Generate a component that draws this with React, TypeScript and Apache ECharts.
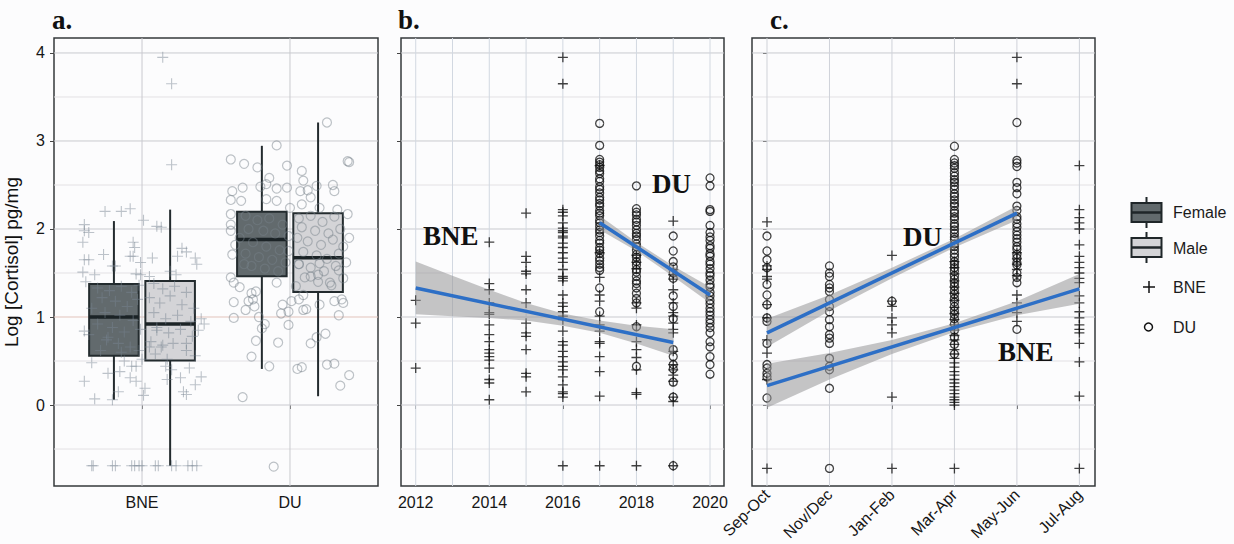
import React, { useEffect, useRef } from 'react';
import * as echarts from 'echarts';

// ---------- axis labels / ticks ----------
const siteLabels = ['BNE', 'DU'];
const seasonLabels = ['Sep-Oct', 'Nov/Dec', 'Jan-Feb', 'Mar-Apr', 'May-Jun', 'Jul-Aug'];
const yearTicks = [2012, 2014, 2016, 2018, 2020];
const yearGrid = [2012, 2013, 2014, 2015, 2016, 2017, 2018, 2019, 2020];
const seasonTicks = [0, 1, 2, 3, 4, 5];
const siteTicks = [1, 2];
const yTicks = [0, 1, 2, 3, 4];
const yGrid = [-0.5, 0, 0.5, 1, 1.5, 2, 2.5, 3, 3.5, 4];

// ---------- panel a: box statistics [min, Q1, median, Q3, max] ----------
const boxBneFemale = [0.06, 0.56, 1.0, 1.376, 2.09];
const boxBneMale = [-0.69, 0.505, 0.92, 1.41, 2.22];
const boxDuFemale = [0.41, 1.463, 1.88, 2.197, 2.945];
const boxDuMale = [0.1, 1.285, 1.673, 2.18, 3.21];

// panel a jittered points [site position (BNE=1, DU=2) + jitter, value]
const jitterBne = [
  [1.14, 3.95], [1.2, 3.65], [1.2, 2.73],
  [0.75, 2.2], [0.86, 2.2], [0.92, 2.23], [1.01, 2.1], [1.1, 2.03], [1.13, 2.02], [0.61, 2.05], [0.61, 1.98],
  [0.64, 1.96], [0.6, 1.85], [0.94, 1.85], [0.95, 1.79], [0.74, 1.71], [0.92, 1.69], [0.94, 1.69], [1.07, 1.67],
  [1.27, 1.78], [1.3, 1.74], [1.24, 1.69], [1.36, 1.67], [1.37, 1.6], [0.61, 1.65], [0.64, 1.65], [0.8, 1.58],
  [0.82, 1.58], [0.99, 1.62], [0.6, 1.51], [0.68, 1.48], [0.96, 1.49], [0.99, 1.48], [1.05, 1.46], [1.19, 1.52],
  [1.23, 1.48],
  [0.62, 1.4], [0.7, 1.33], [0.78, 1.3], [0.86, 1.35], [0.93, 1.28], [0.98, 1.36], [0.73, 1.22], [0.82, 1.18],
  [0.9, 1.12], [0.97, 1.2], [0.66, 1.1], [0.75, 1.05], [0.85, 1.02], [0.94, 0.96], [0.7, 0.92], [0.8, 0.88],
  [0.88, 0.83], [0.99, 0.86], [0.64, 0.8], [0.76, 0.74], [0.84, 0.7], [0.92, 0.66], [0.72, 0.62], [0.86, 0.6],
  [0.98, 0.62], [0.61, 0.84], [0.77, 0.77],
  [1.08, 1.38], [1.14, 1.32], [1.22, 1.35], [1.3, 1.28], [1.05, 1.22], [1.12, 1.16], [1.19, 1.24], [1.27, 1.14],
  [1.35, 1.1], [1.08, 1.05], [1.16, 0.98], [1.24, 1.02], [1.33, 0.95], [1.4, 0.98], [1.1, 0.88], [1.18, 0.82],
  [1.26, 0.86], [1.34, 0.78], [1.06, 0.72], [1.13, 0.66], [1.21, 0.7], [1.3, 0.62], [1.36, 0.56], [1.09, 0.58],
  [1.17, 0.52], [1.42, 0.92], [1.38, 0.85],
  [0.61, 0.27], [0.77, 0.36], [0.85, 0.38], [0.93, 0.44], [0.96, 0.44], [0.92, 0.31], [0.96, 0.27], [1.02, 0.19],
  [1.01, 0.11], [0.84, 0.15], [0.68, 0.07], [0.8, 0.06], [1.16, 0.44], [1.2, 0.4], [1.17, 0.29], [1.26, 0.31],
  [1.32, 0.42], [1.4, 0.32], [1.36, 0.23], [1.28, 0.15], [1.3, 0.12], [1.05, 0.66], [1.14, 0.68], [1.3, 0.7],
  [1.1, 0.85], [0.66, 0.48], [0.88, 0.5], [1.0, 0.52],
  [0.66, -0.69], [0.67, -0.69], [0.8, -0.69], [0.82, -0.69], [0.93, -0.69], [0.95, -0.69], [0.98, -0.69],
  [1.0, -0.69], [1.09, -0.69], [1.11, -0.69], [1.2, -0.69], [1.23, -0.69], [1.31, -0.69], [1.34, -0.69], [1.37, -0.69],
];
const jitterDu = [
  [2.25, 3.21], [1.91, 2.95], [1.6, 2.79], [1.69, 2.74], [1.78, 2.7], [1.98, 2.72], [2.39, 2.77], [2.4, 2.76],
  [1.86, 2.58], [2.08, 2.66], [2.09, 2.55], [1.61, 2.43], [1.68, 2.47], [1.8, 2.48], [1.84, 2.51], [1.91, 2.46],
  [1.98, 2.47], [2.07, 2.43], [2.12, 2.44], [2.18, 2.49], [2.29, 2.5], [2.3, 2.43], [1.6, 2.33], [1.67, 2.32],
  [1.84, 2.34], [1.91, 2.32], [2.14, 2.36], [2.08, 2.28], [2.0, 2.24], [2.2, 2.24], [2.32, 2.22], [2.39, 2.17],
  [1.6, 2.17], [1.6, 2.05], [1.6, 1.98],
  [1.7, 2.15], [1.78, 2.1], [1.86, 2.12], [1.95, 2.05], [1.72, 2.0], [1.82, 1.98], [1.9, 1.95], [1.99, 1.92],
  [1.75, 1.85], [1.84, 1.8], [1.93, 1.76], [1.7, 1.72], [1.79, 1.68], [1.88, 1.65], [1.97, 1.62], [1.74, 1.58],
  [1.83, 1.55], [1.92, 1.52], [1.99, 1.75], [1.66, 1.9], [1.63, 1.82], [1.69, 1.6], [1.6, 1.45],
  [2.06, 2.12], [2.14, 2.15], [2.22, 2.08], [2.3, 2.14], [2.08, 2.02], [2.17, 1.98], [2.26, 1.95], [2.34, 2.0],
  [2.05, 1.9], [2.12, 1.86], [2.21, 1.82], [2.29, 1.88], [2.36, 1.8], [2.09, 1.74], [2.18, 1.7], [2.25, 1.66],
  [2.33, 1.72], [2.06, 1.6], [2.14, 1.56], [2.23, 1.52], [2.31, 1.58], [2.1, 1.45], [2.19, 1.4], [2.28, 1.36],
  [2.36, 1.44], [2.04, 1.35], [2.4, 1.9], [2.38, 1.62],
  [1.61, 1.71], [1.62, 1.39], [1.66, 1.34], [1.62, 1.17], [1.72, 1.18], [1.75, 1.2], [1.74, 1.27], [1.77, 1.29],
  [1.7, 1.08], [1.76, 1.12], [1.62, 0.99], [1.79, 1.0], [1.83, 0.92], [1.81, 0.87], [1.77, 0.73], [1.74, 0.55],
  [1.68, 0.09], [1.86, 0.44], [1.89, -0.7], [1.92, 0.71], [1.91, 1.39], [1.95, 1.14], [1.94, 1.04], [1.99, 1.06],
  [1.99, 0.91], [2.01, 1.18], [2.06, 1.2], [2.09, 1.08], [2.11, 1.09], [2.14, 0.7], [2.18, 0.77], [2.24, 0.81],
  [2.05, 0.41], [2.08, 0.43], [2.25, 0.46], [2.3, 0.47], [2.4, 0.34], [2.34, 0.22], [2.2, 1.14], [2.33, 1.02],
  [2.36, 1.16], [2.35, 1.2], [2.3, 1.18], [2.09, 1.25], [2.14, 1.46], [2.19, 1.48], [2.27, 1.39], [2.33, 1.53],
  [2.06, 1.6], [2.2, 1.61],
];

// ---------- panel b: values by year ----------
const bne2012 = [1.19, 0.93, 0.42];
const bne2014 = [1.85, 1.38, 1.31, 1.16, 1.05, 1.03, 0.91, 0.8, 0.72, 0.63, 0.59, 0.55, 0.51, 0.42, 0.29, 0.25, 0.06];
const bne2015 = [2.18, 1.69, 1.62, 1.52, 1.49, 1.31, 1.16, 0.93, 0.82, 0.78, 0.63, 0.36, 0.32, 0.15];
const bne2016 = [3.95, 3.65, 2.22, 2.19, 2.15, 2.07, 2.01, 1.98, 1.96, 1.92, 1.9, 1.84, 1.79, 1.73, 1.67, 1.62, 1.54,
  1.46, 1.44, 1.41, 1.25, 1.16, 1.12, 1.06, 1.01, 0.97, 0.84, 0.72, 0.68, 0.61, 0.55, 0.49, 0.44, 0.4, 0.32, 0.23,
  0.15, 0.13, 0.09, -0.69];
const bne2017 = [2.72, 1.73, 1.45, 1.25, 1.18, 1.01, 0.91, 0.84, 0.72, 0.7, 0.55, 0.38, 0.1, -0.69];
const bne2018 = [1.7, 1.62, 1.55, 1.16, 1.1, 0.91, 0.72, 0.63, 0.54, 0.4, 0.14, 0.12, -0.69];
const bne2019 = [2.09, 1.54, 1.48, 1.43, 1.31, 1.16, 1.05, 1.01, 0.93, 0.86, 0.82, 0.61, 0.46, 0.4, 0.34, 0.27, 0.09,
  0.04, -0.69];
const du2017 = [3.2, 2.95, 2.79, 2.76, 2.73, 2.7, 2.66, 2.63, 2.57, 2.54, 2.48, 2.45, 2.41, 2.36, 2.33, 2.29, 2.26,
  2.21, 2.18, 2.15, 2.1, 2.07, 2.03, 1.99, 1.96, 1.92, 1.87, 1.84, 1.79, 1.76, 1.72, 1.67, 1.64, 1.6, 1.56, 1.53,
  1.33, 1.06];
const du2018 = [2.49, 2.23, 2.19, 2.16, 2.11, 2.08, 2.04, 1.99, 1.95, 1.92, 1.88, 1.83, 1.8, 1.76, 1.71, 1.68, 1.63,
  1.59, 1.54, 1.51, 1.46, 1.41, 1.38, 1.33, 1.27, 1.21, 1.16, 0.89, 0.44];
const du2019 = [1.92, 1.75, 1.63, 1.57, 1.5, 1.44, 1.24, 1.12, 0.98, 0.63, 0.55, 0.46, 0.41, 0.26, 0.09, -0.69];
const du2020 = [2.58, 2.49, 2.22, 2.2, 2.04, 1.96, 1.91, 1.87, 1.81, 1.78, 1.72, 1.69, 1.63, 1.6, 1.55, 1.5, 1.47,
  1.42, 1.37, 1.34, 1.28, 1.24, 1.19, 1.15, 1.1, 1.06, 1.02, 0.97, 0.93, 0.88, 0.82, 0.72, 0.66, 0.55, 0.46, 0.35];

// panel b regression fits [year, value] and bands [year, lower, upper]
const fitBneYear = [[2012, 1.33], [2019, 0.71]];
const fitDuYear = [[2017, 2.07], [2020, 1.25]];
const bandBneYear = [[2012, 1.03, 1.63], [2013, 1.01, 1.47], [2014, 0.99, 1.31], [2015, 0.96, 1.16],
  [2016, 0.9, 1.04], [2017, 0.82, 0.96], [2018, 0.7, 0.9], [2019, 0.56, 0.86]];
const bandDuYear = [[2017, 1.99, 2.15], [2018, 1.75, 1.85], [2019, 1.46, 1.58], [2020, 1.16, 1.34]];

// ---------- panel c: values by season ----------
const sepOctBne = [2.08, 1.58, 1.54, 1.46, 1.43, 1.14, 0.99, 0.74, 0.59, 0.29, -0.72];
const sepOctDu = [1.92, 1.75, 1.65, 1.56, 1.37, 1.25, 1.14, 0.99, 0.95, 0.7, 0.46, 0.42, 0.36, 0.32, 0.08];
const novDecDu = [1.58, 1.5, 1.46, 1.37, 1.33, 1.29, 1.2, 1.12, 1.06, 0.97, 0.89, 0.8, 0.76, 0.7, 0.53, 0.44, 0.4,
  0.19, -0.72];
const janFebBne = [1.7, 1.18, 1.12, 0.99, 0.91, 0.82, 0.09, -0.72];
const janFebDu = [1.18];
const marAprBne = [1.63, 1.56, 1.49, 1.41, 1.34, 1.27, 1.19, 1.11, 1.04, 0.97, 0.91, 0.85, 0.79, 0.74, 0.69, 0.63,
  0.58, 0.53, 0.48, 0.43, 0.38, 0.34, 0.29, 0.25, 0.21, 0.17, 0.13, 0.09, 0.06, 0.03, 0.0, -0.72];
const marAprDu = [2.94, 2.79, 2.75, 2.72, 2.69, 2.64, 2.6, 2.56, 2.53, 2.49, 2.45, 2.4, 2.37, 2.33, 2.29, 2.26, 2.21,
  2.18, 2.14, 2.11, 2.06, 2.03, 1.99, 1.95, 1.91, 1.88, 1.83, 1.8, 1.76, 1.72, 1.68, 1.63, 1.6, 1.56, 1.52, 1.47,
  1.43, 1.39, 1.35, 1.3, 1.26, 1.21, 1.17, 1.12, 1.07, 1.03, 0.98, 0.92, 0.85, 0.77, 0.69, 0.58];
const mayJunBne = [3.95, 3.65, 1.73, 1.66, 1.6, 1.54, 1.47, 1.25, 1.16, 1.05, 0.95];
const mayJunDu = [3.21, 2.78, 2.75, 2.71, 2.53, 2.47, 2.4, 2.26, 2.21, 2.14, 2.11, 2.06, 2.02, 1.97, 1.93, 1.89,
  1.85, 1.8, 1.77, 1.71, 1.67, 1.62, 1.59, 1.5, 1.45, 1.39, 0.86];
const julAugBne = [2.72, 2.22, 2.13, 2.07, 2.0, 1.82, 1.69, 1.62, 1.56, 1.5, 1.44, 1.39, 1.24, 1.16, 1.06, 0.99,
  0.91, 0.86, 0.82, 0.7, 0.49, 0.1, -0.72];

// panel c regression fits [season index, value] and bands [season index, lower, upper]
const fitDuSeason = [[0, 0.82], [4, 2.18]];
const fitBneSeason = [[0, 0.22], [5, 1.32]];
const bandDuSeason = [[0, 0.66, 0.98], [1, 1.07, 1.25], [2, 1.44, 1.56], [3, 1.79, 1.89], [4, 2.1, 2.26]];
const bandBneSeason = [[0, -0.03, 0.47], [1, 0.29, 0.59], [2, 0.58, 0.74], [3, 0.83, 0.93], [4, 1.02, 1.18],
  [5, 1.15, 1.49]];

// ---------- styling ----------
const FONT = 'Liberation Sans';
const SERIF = 'Liberation Serif';
const Y_MIN = -0.92;
const Y_MAX = 4.17;
const DODGE = 0.19;
const BOX_W = 0.335;
const BLUE = '#2d6fc6';
const CROSS = 'path://M0,5L10,5M5,0L5,10';

const col = (x: number, ys: number[]) => ys.map((y) => [x, y]);

function gridLines(idx: number, xVals: number[], xRef: number, vColor: string) {
  const data = [...yGrid.map((v) => [0, v]), ...xVals.map((v) => [1, v])];
  return {
    type: 'custom', xAxisIndex: idx, yAxisIndex: idx, z: 1, silent: true, clip: false,
    data,
    renderItem: (params: any, api: any) => {
      const cs = params.coordSys;
      const kind = api.value(0);
      const v = api.value(1);
      if (kind === 0) {
        const y = api.coord([xRef, v])[1];
        const major = Number.isInteger(v);
        return {
          type: 'line', shape: { x1: cs.x, y1: y, x2: cs.x + cs.width, y2: y },
          style: { stroke: major ? (idx === 0 && v === 1 ? '#e2c3bb' : '#c9cacf') : '#e3e1e4', lineWidth: 1 },
        };
      }
      const x = api.coord([v, 0])[0];
      return {
        type: 'line', shape: { x1: x, y1: cs.y, x2: x, y2: cs.y + cs.height },
        style: { stroke: vColor, lineWidth: 1 },
      };
    },
  };
}

function band(idx: number, pts: number[][]) {
  return {
    type: 'custom', xAxisIndex: idx, yAxisIndex: idx, z: 4, silent: true,
    data: pts,
    renderItem: (params: any, api: any) => {
      if (params.dataIndex !== 0) return null;
      const upper = pts.map((p) => api.coord([p[0], p[2]]));
      const lower = pts.map((p) => api.coord([p[0], p[1]])).reverse();
      return {
        type: 'polygon', shape: { points: [...upper, ...lower] },
        style: { fill: 'rgba(150,150,152,0.55)', stroke: 'none' },
      };
    },
  };
}

function fitLine(idx: number, pts: number[][]) {
  return {
    type: 'line', xAxisIndex: idx, yAxisIndex: idx, z: 5, silent: true, symbol: 'none',
    data: pts, lineStyle: { color: BLUE, width: 3.5 },
  };
}

function crossSeries(idx: number, data: number[][], color: string, size: number, width: number, z = 3) {
  return {
    type: 'scatter', xAxisIndex: idx, yAxisIndex: idx, z, silent: true,
    symbol: CROSS, symbolSize: size, data,
    itemStyle: { color: 'rgba(0,0,0,0)', borderColor: color, borderWidth: width },
  };
}

function circleSeries(idx: number, data: number[][], color: string, size: number, width: number, z = 3) {
  return {
    type: 'scatter', xAxisIndex: idx, yAxisIndex: idx, z, silent: true,
    symbol: 'circle', symbolSize: size, data,
    itemStyle: { color: 'rgba(0,0,0,0)', borderColor: color, borderWidth: width },
  };
}

function buildOption(): any {
  const boxes = [
    [1 - DODGE, ...boxBneFemale, 0],
    [1 + DODGE, ...boxBneMale, 1],
    [2 - DODGE, ...boxDuFemale, 0],
    [2 + DODGE, ...boxDuMale, 1],
  ];

  const bneYear = [
    ...col(2012, bne2012), ...col(2014, bne2014), ...col(2015, bne2015), ...col(2016, bne2016),
    ...col(2017, bne2017), ...col(2018, bne2018), ...col(2019, bne2019),
  ];
  const duYear = [...col(2017, du2017), ...col(2018, du2018), ...col(2019, du2019), ...col(2020, du2020)];
  const bneSeason = [
    ...col(0, sepOctBne), ...col(2, janFebBne), ...col(3, marAprBne), ...col(4, mayJunBne), ...col(5, julAugBne),
  ];
  const duSeason = [
    ...col(0, sepOctDu), ...col(1, novDecDu), ...col(2, janFebDu), ...col(3, marAprDu), ...col(4, mayJunDu),
  ];

  const gridBase = { top: 38, height: 448, show: true, borderColor: '#34383b', borderWidth: 1.5, backgroundColor: '#fcfcfd' };
  const labelStyle = { fontFamily: FONT, fontSize: 16, color: '#161616' };

  const yAxis = (i: number, showLabel: boolean) => ({
    type: 'value', gridIndex: i, min: Y_MIN, max: Y_MAX,
    axisLine: { show: false }, splitLine: { show: false },
    axisTick: { show: true, customValues: yTicks, length: 4, lineStyle: { color: '#444', width: 1 } },
    axisLabel: { show: showLabel, customValues: yTicks, margin: 9, ...labelStyle },
    ...(i === 0
      ? {
        name: 'Log [Cortisol] pg/mg', nameLocation: 'middle', nameGap: 33, nameRotate: 90,
        nameTextStyle: { fontFamily: FONT, fontSize: 19, color: '#111' },
      }
      : {}),
  });

  const titleText = (x: number, text: string) => ({
    type: 'text', x, y: 20,
    style: { text, fontFamily: SERIF, fontWeight: 'bold', fontSize: 27, fill: '#111', verticalAlign: 'middle' },
  });
  const annot = (x: number, y: number, text: string) => ({
    type: 'text', x, y, z: 50,
    style: { text, fontFamily: SERIF, fontWeight: 'bold', fontSize: 27, fill: '#111', verticalAlign: 'middle' },
  });
  const legendText = (y: number, text: string) => ({
    type: 'text', x: 1173, y,
    style: { text, fontFamily: FONT, fontSize: 16, fill: '#1b1b1b', verticalAlign: 'middle' },
  });
  const legendBox = (top: number, h: number, fill: string) => ({
    type: 'group', children: [
      { type: 'line', shape: { x1: 1146.5, y1: top - 6, x2: 1146.5, y2: top + h + 6 }, style: { stroke: '#1f2629', lineWidth: 2 } },
      { type: 'rect', shape: { x: 1131.5, y: top, width: 30, height: h }, style: { fill, stroke: '#1f2629', lineWidth: 2 } },
      { type: 'line', shape: { x1: 1131.5, y1: top + h / 2, x2: 1161.5, y2: top + h / 2 }, style: { stroke: '#1f2629', lineWidth: 2.5 } },
    ],
  });

  return {
    animation: false,
    backgroundColor: '#fcfcfd',
    grid: [
      { ...gridBase, left: 54, width: 324 },
      { ...gridBase, left: 401, width: 323 },
      { ...gridBase, left: 752, width: 343 },
    ],
    xAxis: [
      {
        type: 'value', gridIndex: 0, min: 0.405, max: 2.595,
        axisLine: { show: false }, splitLine: { show: false },
        axisTick: { customValues: siteTicks, length: 4, lineStyle: { color: '#444' } },
        axisLabel: { customValues: siteTicks, margin: 8, formatter: (v: number) => siteLabels[Math.round(v) - 1], ...labelStyle },
      },
      {
        type: 'value', gridIndex: 1, min: 2011.6, max: 2020.38,
        axisLine: { show: false }, splitLine: { show: false },
        axisTick: { customValues: yearTicks, length: 4, lineStyle: { color: '#444' } },
        axisLabel: { customValues: yearTicks, margin: 8, formatter: (v: number) => String(Math.round(v)), ...labelStyle },
      },
      {
        type: 'value', gridIndex: 2, min: -0.24, max: 5.25,
        axisLine: { show: false }, splitLine: { show: false },
        axisTick: { customValues: seasonTicks, length: 4, lineStyle: { color: '#444' } },
        axisLabel: {
          customValues: seasonTicks, margin: 6, rotate: 45,
          formatter: (v: number) => seasonLabels[Math.round(v)], ...labelStyle,
        },
      },
    ],
    yAxis: [yAxis(0, true), yAxis(1, false), yAxis(2, false)],
    series: [
      gridLines(0, siteTicks, 1, '#c9cacf'),
      gridLines(1, yearGrid, 2012, '#d2d8e1'),
      gridLines(2, seasonTicks, 0, '#cfd2d9'),
      {
        type: 'custom', xAxisIndex: 0, yAxisIndex: 0, z: 2, silent: true,
        data: boxes,
        renderItem: (params: any, api: any) => {
          const x = api.value(0);
          const lo = api.coord([x, api.value(1)]);
          const q1 = api.coord([x, api.value(2)]);
          const med = api.coord([x, api.value(3)]);
          const q3 = api.coord([x, api.value(4)]);
          const hi = api.coord([x, api.value(5)]);
          const fill = api.value(6) === 0 ? '#626a6d' : '#d4d4d7';
          const w = api.size([BOX_W, 0])[0];
          const stroke = '#232b2e';
          return {
            type: 'group', children: [
              { type: 'line', shape: { x1: lo[0], y1: lo[1], x2: q1[0], y2: q1[1] }, style: { stroke, lineWidth: 2 } },
              { type: 'line', shape: { x1: q3[0], y1: q3[1], x2: hi[0], y2: hi[1] }, style: { stroke, lineWidth: 2 } },
              { type: 'rect', shape: { x: q1[0] - w / 2, y: q3[1], width: w, height: q1[1] - q3[1] }, style: { fill, stroke, lineWidth: 2 } },
              { type: 'line', shape: { x1: med[0] - w / 2, y1: med[1], x2: med[0] + w / 2, y2: med[1] }, style: { stroke: '#1b2326', lineWidth: 3.5 } },
            ],
          };
        },
      },
      crossSeries(0, jitterBne, 'rgba(120,132,145,0.6)', 11, 1.1),
      circleSeries(0, jitterDu, 'rgba(120,130,138,0.6)', 9, 1.2),
      crossSeries(1, bneYear, '#111', 10, 1.3),
      circleSeries(1, duYear, '#111', 8, 1.3),
      band(1, bandBneYear),
      band(1, bandDuYear),
      fitLine(1, fitBneYear),
      fitLine(1, fitDuYear),
      crossSeries(2, bneSeason, '#111', 10, 1.3),
      circleSeries(2, duSeason, '#111', 8, 1.3),
      band(2, bandDuSeason),
      band(2, bandBneSeason),
      fitLine(2, fitDuSeason),
      fitLine(2, fitBneSeason),
    ],
    graphic: [
      titleText(52, 'a.'),
      titleText(398, 'b.'),
      titleText(770, 'c.'),
      annot(423, 236, 'BNE'),
      annot(652, 184, 'DU'),
      annot(903, 237, 'DU'),
      annot(998, 352, 'BNE'),
      legendBox(203, 19, '#626a6d'),
      legendBox(238, 19, '#d4d4d7'),
      { type: 'line', shape: { x1: 1143, y1: 287, x2: 1155, y2: 287 }, style: { stroke: '#111', lineWidth: 1.5 } },
      { type: 'line', shape: { x1: 1149, y1: 281, x2: 1149, y2: 293 }, style: { stroke: '#111', lineWidth: 1.5 } },
      { type: 'circle', shape: { cx: 1148.5, cy: 327, r: 4 }, style: { fill: 'none', stroke: '#111', lineWidth: 1.5 } },
      legendText(212, 'Female'),
      legendText(248, 'Male'),
      legendText(287, 'BNE'),
      legendText(327, 'DU'),
    ],
  };
}

export default function App() {
  const ref = useRef<HTMLDivElement>(null);
  useEffect(() => {
    if (!ref.current) return;
    const chart = echarts.init(ref.current, null, { renderer: 'svg' });
    chart.setOption(buildOption());
    return () => chart.dispose();
  }, []);
  return (
    <div
      ref={ref}
      style={{ position: 'fixed', left: 0, top: 0, width: 1234, height: 544, background: '#fcfcfd' }}
    />
  );
}
